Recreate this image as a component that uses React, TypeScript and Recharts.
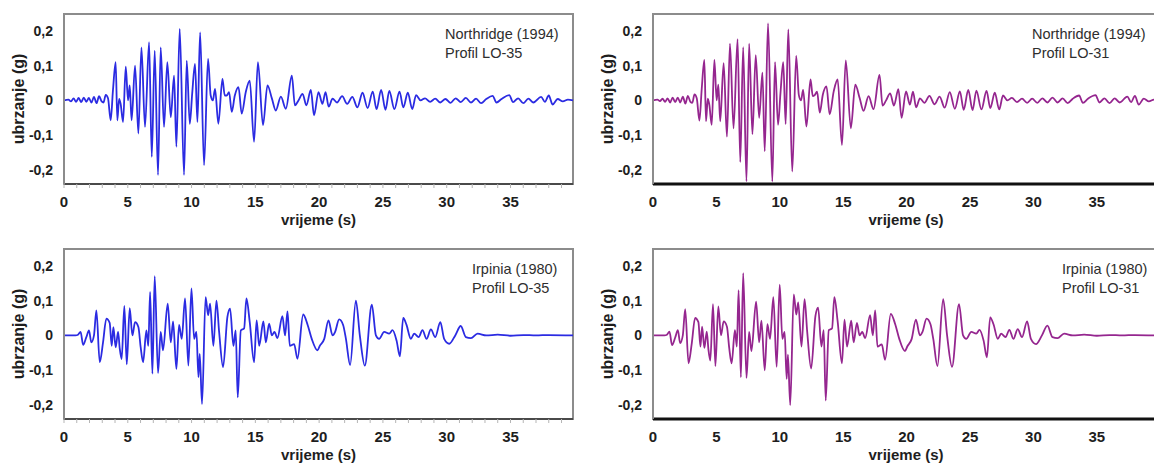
import React from 'react';
import { LineChart, Line, XAxis, YAxis, Label, ReferenceArea } from 'recharts';

// Northridge (1994) – time (s) and acceleration (g)
const nrTime = [
  0, 0.35, 0.55, 0.75, 0.95, 1.15, 1.35, 1.55, 1.75, 1.95,
  2.15, 2.35, 2.55, 2.75, 2.95, 3.1, 3.27, 3.45, 3.66, 3.84,
  4.05, 4.18, 4.32, 4.44, 4.63, 4.84, 5.02, 5.15, 5.3, 5.57,
  5.83, 6.07, 6.35, 6.67, 6.88, 7.11, 7.37, 7.58, 7.84, 8.1,
  8.37, 8.63, 8.81, 9.07, 9.41, 9.62, 9.86, 10.05, 10.27, 10.46,
  10.67, 10.98, 11.29, 11.5, 11.67, 11.84, 12.1, 12.42, 12.6, 12.75,
  12.94, 13.15, 13.39, 13.68, 13.93, 14.25, 14.56, 14.9, 15.2, 15.6,
  15.95, 16.3, 16.6, 17.0, 17.39, 17.86, 18.1, 18.38, 18.7, 19.0,
  19.35, 19.6, 19.95, 20.26, 20.5, 20.75, 21.05, 21.4, 21.8, 22.2,
  22.6, 23.0, 23.4, 23.8, 24.2, 24.5, 24.86, 25.2, 25.5, 25.9,
  26.3, 26.6, 26.95, 27.3, 27.6, 27.95, 28.3, 28.7, 29.1, 29.5,
  29.9, 30.3, 30.7, 31.1, 31.5, 31.9, 32.3, 32.7, 33.1, 33.6,
  33.9, 34.3, 34.9, 35.2, 35.6, 36.0, 36.4, 36.8, 37.4, 37.7,
  38.0, 38.3, 38.7, 39.1, 39.5, 39.9,
];

const nrLO35 = [
  0, 0.002, -0.003, 0.006, -0.004, 0.007, -0.005, 0.008, -0.004, 0.007,
  -0.006, 0.01, -0.008, 0.012, -0.003, -0.006, 0.016, 0.006, -0.057, 0.03,
  0.11, -0.057, 0.004, -0.01, -0.062, 0.097, 0.0, 0.043, -0.057, 0.1,
  -0.095, 0.152, -0.076, 0.167, -0.162, 0.143, -0.214, 0.152, -0.076, 0.11,
  -0.048, 0.071, -0.133, 0.205, -0.214, 0.114, -0.067, 0.02, 0.105, -0.062,
  0.195, -0.186, 0.119, 0.014, 0.0, 0.033, -0.067, 0.062, 0.014, 0.014,
  0.024, -0.033, 0.014, 0.038, -0.038, 0.024, 0.057, -0.119, 0.11, -0.071,
  0.043, 0.005, -0.029, 0.011, -0.024, 0.071, -0.014, 0.0, 0.019, -0.014,
  0.03, -0.043, 0.024, -0.01, 0.024, -0.018, 0.005, -0.006, 0.012, -0.01,
  0.01, -0.02, 0.022, -0.022, 0.025, -0.025, 0.03, -0.027, 0.027, -0.025,
  0.025, -0.02, 0.022, -0.025, 0.015, 0.0, 0.006, -0.004, 0.005, -0.006,
  0.004, -0.007, 0.006, -0.005, 0.007, -0.006, 0.005, -0.008, 0.004, 0.013,
  -0.006, 0.004, 0.015, -0.005, 0.006, -0.008, 0.005, -0.006, 0.01, -0.004,
  0.014, -0.012, 0.004, -0.003, 0.002, 0.0,
];

const nrLO31 = [
  0, 0.002, -0.002, 0.005, -0.004, 0.006, -0.006, 0.008, -0.005, 0.008,
  -0.006, 0.011, -0.009, 0.013, -0.004, -0.007, 0.017, 0.006, -0.058, 0.032,
  0.116, -0.06, 0.005, -0.012, -0.07, 0.116, 0.0, 0.045, -0.06, 0.107,
  -0.104, 0.163, -0.08, 0.176, -0.177, 0.153, -0.232, 0.163, -0.097, 0.13,
  -0.05, 0.08, -0.146, 0.221, -0.233, 0.11, -0.07, 0.02, 0.11, -0.068,
  0.204, -0.204, 0.128, 0.015, 0.0, 0.03, -0.075, 0.06, 0.012, 0.015,
  0.025, -0.035, 0.016, 0.04, -0.04, 0.026, 0.06, -0.128, 0.115, -0.08,
  0.045, 0.006, -0.03, 0.012, -0.025, 0.073, -0.015, 0.0, 0.02, -0.015,
  0.032, -0.05, 0.026, -0.012, 0.025, -0.02, 0.006, -0.007, 0.013, -0.011,
  0.011, -0.021, 0.024, -0.024, 0.026, -0.027, 0.03, -0.028, 0.028, -0.026,
  0.027, -0.022, 0.022, -0.026, 0.014, 0.0, 0.007, -0.005, 0.005, -0.007,
  0.005, -0.007, 0.006, -0.006, 0.008, -0.006, 0.006, -0.008, 0.005, 0.014,
  -0.007, 0.005, 0.015, -0.006, 0.006, -0.008, 0.006, -0.006, 0.011, -0.005,
  0.013, -0.012, 0.005, -0.003, 0.002, 0.0,
];

// Irpinia (1980)
const irTime = [
  0, 0.9, 1.1, 1.3, 1.5, 1.75, 1.96, 2.14, 2.35, 2.54,
  2.8, 3.06, 3.32, 3.58, 3.74, 3.87, 4.05, 4.24, 4.37, 4.52,
  4.73, 4.92, 5.15, 5.36, 5.57, 5.83, 6.01, 6.2, 6.46, 6.61,
  6.75, 6.93, 7.11, 7.37, 7.58, 7.76, 8.13, 8.37, 8.55, 8.81,
  9.02, 9.23, 9.49, 9.75, 9.99, 10.2, 10.38, 10.54, 10.64, 10.82,
  11.1, 11.3, 11.45, 11.71, 11.95, 12.16, 12.47, 12.81, 13.02, 13.28,
  13.46, 13.62, 13.86, 14.12, 14.3, 14.56, 14.9, 15.1, 15.3, 15.63,
  15.82, 16.08, 16.29, 16.5, 16.73, 17.12, 17.33, 17.52, 17.7, 18.04,
  18.3, 18.75, 19.1, 19.42, 19.87, 20.05, 20.4, 20.73, 21.05, 21.25,
  21.57, 21.88, 22.1, 22.43, 22.88, 23.19, 23.58, 24.13, 24.45, 24.7,
  25.1, 25.49, 25.75, 26.07, 26.33, 26.59, 26.85, 27.19, 27.45, 27.8,
  28.1, 28.42, 28.76, 29.1, 29.5, 29.8, 30.2, 30.67, 31.1, 31.5,
  31.9, 32.42, 33.1, 34.0, 35.0, 36.0, 37.0, 38.0, 39.9,
];

const irLO35 = [
  0, 0, 0.002, 0.01, -0.027, -0.005, 0.014, -0.02, 0.0, 0.072,
  -0.077, -0.02, 0.048, 0.036, -0.03, 0.024, -0.034, 0.01, -0.038, -0.068,
  0.085, -0.083, 0.078, 0.0, 0.038, 0.024, -0.034, -0.077, 0.014, -0.03,
  0.125, -0.11, 0.17, -0.108, 0.01, -0.043, 0.091, -0.02, 0.04, -0.096,
  0.03, -0.01, 0.106, -0.087, 0.135, -0.01, 0.01, -0.12, -0.053, -0.197,
  0.11, 0.058, 0.091, -0.03, 0.1, 0.01, -0.091, 0.053, 0.077, -0.03,
  0.014, -0.178, 0.014, 0.02, 0.106, 0.038, -0.077, 0.043, -0.03, 0.04,
  -0.02, 0.034, 0.0, 0.01, -0.008, 0.055, 0.0, 0.069, -0.03, -0.025,
  -0.067, 0.06, 0.03, -0.01, -0.043, -0.03, -0.01, 0.043, 0.0, 0.01,
  0.046, 0.03, -0.01, -0.085, 0.1, 0.0, -0.087, 0.088, 0.0, -0.01,
  0.01, 0.005, 0.015, -0.015, -0.06, 0.05, 0.03, -0.01, 0.005, -0.005,
  0.015, -0.01, 0.017, -0.005, 0.038, -0.01, -0.024, 0.0, 0.027, -0.005,
  -0.008, 0.005, 0.0, 0.002, -0.001, 0.001, 0.0, 0.001, 0.0,
];

const irLO31 = [
  0, 0, 0.002, 0.011, -0.028, -0.006, 0.015, -0.022, 0.0, 0.075,
  -0.08, -0.022, 0.05, 0.038, -0.032, 0.025, -0.036, 0.011, -0.04, -0.072,
  0.09, -0.088, 0.083, 0.0, 0.04, 0.025, -0.036, -0.08, 0.015, -0.032,
  0.13, -0.12, 0.179, -0.122, 0.01, -0.045, 0.097, -0.02, 0.042, -0.1,
  0.032, -0.01, 0.11, -0.09, 0.146, -0.01, 0.01, -0.125, -0.055, -0.2,
  0.118, 0.06, 0.095, -0.032, 0.104, 0.01, -0.095, 0.056, 0.08, -0.032,
  0.015, -0.187, 0.015, 0.02, 0.11, 0.04, -0.08, 0.045, -0.032, 0.042,
  -0.02, 0.036, 0.0, 0.01, -0.008, 0.058, 0.0, 0.072, -0.032, -0.026,
  -0.07, 0.062, 0.032, -0.01, -0.045, -0.032, -0.01, 0.045, 0.0, 0.01,
  0.048, 0.032, -0.01, -0.088, 0.104, 0.0, -0.09, 0.09, 0.0, -0.01,
  0.01, 0.005, 0.016, -0.015, -0.063, 0.052, 0.032, -0.01, 0.005, -0.005,
  0.016, -0.01, 0.018, -0.005, 0.04, -0.01, -0.025, 0.0, 0.028, -0.005,
  -0.008, 0.005, 0.0, 0.002, -0.001, 0.001, 0.0, 0.001, 0.0,
];

const timeTicks = [
  0, 1, 2, 3, 4, 5, 6, 7, 8, 9, 10, 11, 12, 13, 14, 15, 16, 17, 18, 19,
  20, 21, 22, 23, 24, 25, 26, 27, 28, 29, 30, 31, 32, 33, 34, 35, 36, 37, 38, 39,
];
const accTicks = [-0.2, -0.1, 0, 0.1, 0.2];

const T_MAX = 39.9;
const A_MIN = -0.24;
const A_MAX = 0.248;

const BLUE = '#2b2be2';
const PURPLE = '#95268f';
const FONT = '"Liberation Sans", Arial, sans-serif';

const fmtAcc = (v: number) => (v === 0 ? '0' : v.toFixed(1).replace('.', ','));
const fmtTime = (v: number) => (v % 5 === 0 ? String(v) : '');

interface PanelProps {
  time: number[];
  values: number[];
  color: string;
  left: number;
  top: number;
  width: number;
  bottomStroke: string;
  bottomWidth: number;
  minorTicks: boolean;
}

const Panel: React.FC<PanelProps> = ({ time, values, color, left, top, width, bottomStroke, bottomWidth, minorTicks }) => {
  const data = time.map((t, i) => ({ t, a: values[i] ?? 0 }));
  return (
    <div style={{ position: 'absolute', left, top }}>
      <LineChart width={width} height={230} data={data} margin={{ top: 14, right: 7, bottom: 0, left: 0 }}>
        {/* grey frame around the plot area */}
        <ReferenceArea
          x1={0}
          x2={T_MAX}
          y1={A_MIN}
          y2={A_MAX}
          fill="none"
          stroke="#8c8c8c"
          strokeWidth={2}
          ifOverflow="visible"
        />
        <XAxis
          dataKey="t"
          type="number"
          domain={[0, T_MAX]}
          ticks={timeTicks}
          interval={0}
          tickFormatter={fmtTime}
          height={46}
          tickSize={4}
          tickMargin={8}
          tickLine={minorTicks ? { stroke: '#b5b5b5' } : false}
          axisLine={{ stroke: bottomStroke, strokeWidth: bottomWidth }}
          tick={{ fill: '#1e1e1e', fontSize: 15, fontWeight: 'bold', fontFamily: FONT }}
        >
          <Label
            value="vrijeme (s)"
            position="insideBottom"
            offset={5}
            style={{ fill: '#1e1e1e', fontSize: 15, fontWeight: 'bold', fontFamily: FONT }}
          />
        </XAxis>
        <YAxis
          type="number"
          domain={[A_MIN, A_MAX]}
          allowDataOverflow
          ticks={accTicks}
          tickFormatter={fmtAcc}
          width={64}
          tickLine={false}
          tickSize={6}
          tickMargin={5}
          axisLine={{ stroke: '#8c8c8c', strokeWidth: 2 }}
          tick={{ fill: '#1e1e1e', fontSize: 14, fontWeight: 'bold', fontFamily: FONT }}
        >
          <Label
            value="ubrzanje (g)"
            position="insideLeft"
            angle={-90}
            offset={18}
            style={{ textAnchor: 'middle', fill: '#1e1e1e', fontSize: 16, fontWeight: 'bold', fontFamily: FONT }}
          />
        </YAxis>
        <Line
          type="monotone"
          dataKey="a"
          stroke={color}
          strokeWidth={1.8}
          dot={false}
          activeDot={false}
          isAnimationActive={false}
        />
      </LineChart>
    </div>
  );
};

const noteStyle = { fontFamily: FONT, fontSize: 14.5, fill: '#2e2e2e' };

export default function App() {
  return (
    <div
      style={{
        position: 'fixed',
        left: 0,
        top: 0,
        width: 1154,
        height: 465,
        overflow: 'hidden',
        background: '#fff',
      }}
    >
      <Panel time={nrTime} values={nrLO35} color={BLUE} left={0} top={0} width={580} bottomStroke="#4a4a4a" bottomWidth={2} minorTicks />
      <Panel time={nrTime} values={nrLO31} color={PURPLE} left={589} top={0} width={577} bottomStroke="#111" bottomWidth={3} minorTicks={false} />
      <Panel time={irTime} values={irLO35} color={BLUE} left={0} top={235} width={580} bottomStroke="#4a4a4a" bottomWidth={2} minorTicks />
      <Panel time={irTime} values={irLO31} color={PURPLE} left={589} top={235} width={577} bottomStroke="#111" bottomWidth={3} minorTicks={false} />
      <svg width={1154} height={465} style={{ position: 'absolute', left: 0, top: 0, pointerEvents: 'none' }}>
        <text x={445} y={39} style={noteStyle}>Northridge (1994)</text>
        <text x={445} y={58} style={noteStyle}>Profil LO-35</text>
        <text x={1032} y={39} style={noteStyle}>Northridge (1994)</text>
        <text x={1032} y={58} style={noteStyle}>Profil LO-31</text>
        <text x={472} y={274} style={noteStyle}>Irpinia (1980)</text>
        <text x={472} y={293} style={noteStyle}>Profil LO-35</text>
        <text x={1062} y={274} style={noteStyle}>Irpinia (1980)</text>
        <text x={1062} y={293} style={noteStyle}>Profil LO-31</text>
      </svg>
    </div>
  );
}
